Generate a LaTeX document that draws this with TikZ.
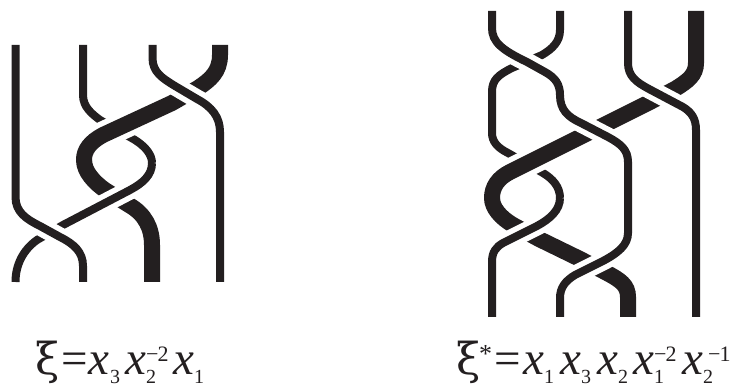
\documentclass[tikz,border=0pt]{standalone}
\usepackage{fontspec}
\setmainfont{Liberation Serif}
\newfontfamily\xifont{DejaVu Serif}
\definecolor{ink}{HTML}{231F20}
\newcommand{\bigf}{\fontsize{47}{50}\selectfont}
\newcommand{\subf}{\fontsize{20}{20}\selectfont}
\newcommand{\supf}{\fontsize{22}{22}\selectfont}
\newcommand{\putat}[2]{\rlap{\kern#1pt #2}}
\newcommand{\vx}{{\bigf\itshape x}}
\newcommand{\vxi}{{\xifont\fontsize{44}{44}\selectfont ξ}}
\newcommand{\vsub}[1]{\raisebox{-8.5pt}{\subf #1}}
\newcommand{\vsup}[1]{\raisebox{13.5pt}{\supf −\kern-1pt #1}}
\tikzset{
  x=1pt,y=-1pt,
  thin strand/.style={draw=ink,line width=8pt,line cap=butt},
  thick strand/.style={draw=ink,line width=16pt,line cap=butt},
  thin halo/.style={draw=white,line width=19pt,line cap=butt},
  thick halo/.style={draw=white,line width=27pt,line cap=butt},
  formula/.style={inner sep=0pt,anchor=base west,text=ink}
}
\begin{document}
\begin{tikzpicture}
\useasboundingbox (0,0) rectangle (731,387);
% ---- left braid ----
\def\LTlow{(84,160) .. controls (84,172) and (95,183) .. (105,190) -- (129,205) .. controls (145,214) and (152,228) .. (152,245) -- (152,282)}
\def\LNlow{(152,163) .. controls (152,175) and (143,183) .. (130,190) -- (63,225) -- (37,240) .. controls (23,250) and (15.5,265) .. (15.5,282)}
\def\LNup{(83,45) -- (83,95) .. controls (83,107) and (92,114) .. (100,120) -- (135,140) .. controls (146,147) and (152,155) .. (152,163)}
\def\LTup{(220,45) -- (220,55) .. controls (220,72) and (210,80) .. (198,88) -- (172,103) -- (103,135) .. controls (90,142) and (84,150) .. (84,160)}
\def\LR{(152.5,45) -- (152.5,58) .. controls (152.5,72) and (162,78) .. (175,86) -- (197,99) .. controls (212,107) and (220,117) .. (220,132) -- (220,282)}
\def\LA{(15.5,45) -- (15.5,197) .. controls (15.5,212) and (26,219) .. (40,226) -- (60,237) .. controls (74,244) and (83,252) .. (83,266) -- (83,282)}
\path[thick strand] \LTlow;
\path[thin halo] \LNlow; \path[thin strand] \LNlow;
\path[thin strand] \LNup;
\path[thick halo] \LTup; \path[thick strand] \LTup -- (84,162);
\path[thin halo] \LR; \path[thin strand] \LR;
\path[thin halo] \LA; \path[thin strand] \LA;
% ---- right braid ----
\def\RTlow{(492,198) .. controls (492,208) and (501,218) .. (513,225) -- (539,239) -- (580,259) -- (607,273) .. controls (620,280) and (628,285) .. (628,297) -- (628,317)}
\def\RNlow{(560,198) .. controls (560,210) and (550,219) .. (537,226) -- (503,243) .. controls (496,247) and (492,252) .. (492,262) -- (492,317)}
\def\RNup{(560,11) -- (560,30) .. controls (560,42) and (552,49) .. (542,55) -- (512,68) .. controls (498,75) and (492,80) .. (492,92) -- (492,133) .. controls (492,142) and (498,148) .. (508,153) -- (543,173) .. controls (553,179) and (560,187) .. (560,198)}
\def\RTup{(696,11) -- (696,63) .. controls (696,75) and (688,81) .. (675,89) -- (648,103) -- (608,123) -- (580,137) -- (510,172) .. controls (498,178) and (492,187) .. (492,198)}
\def\RS{(628,11) -- (628,63) .. controls (628,76) and (636,82) .. (649,89) -- (683,107) .. controls (691,112) and (696,118) .. (696,130) -- (696,317)}
\def\RO{(492,11) -- (492,28) .. controls (492,42) and (502,50) .. (527,62) -- (545,72) .. controls (556,78) and (560,85) .. (560,95) .. controls (560,110) and (568,117) .. (581,123) -- (608,137) .. controls (621,144) and (628,150) .. (628,162) -- (628,233) .. controls (628,245) and (618,253) .. (603,261) -- (575,275) .. controls (565,281) and (560,288) .. (560,298) -- (560,317)}
\path[thick strand] \RTlow;
\path[thin halo] \RNlow; \path[thin strand] \RNlow;
\path[thin strand] \RNup;
\path[thick halo] \RTup; \path[thick strand] \RTup -- (492,200);
\path[thin halo] \RS; \path[thin strand] \RS;
\path[thin halo] \RO; \path[thin strand] \RO;
% ---- formulas ----
\node[formula] (fl) at (35,374.5) {\putat{0}{\vxi}\putat{26}{\bigf=}\putat{53}{\vx}\putat{75}{\vsub{3}}\putat{90}{\vx}\putat{111}{\vsub{2}}\putat{111}{\vsup{2}}\putat{138}{\vx}\putat{159}{\vsub{1}}\kern170pt};
\node[formula] (fr) at (456,374.5) {\putat{0}{\vxi}\putat{23}{\raisebox{12pt}{\fontsize{26}{26}\selectfont *}}\putat{38}{\bigf=}\putat{67}{\vx}\putat{88}{\vsub{1}}\putat{104}{\vx}\putat{125}{\vsub{3}}\putat{141}{\vx}\putat{162}{\vsub{2}}\putat{177}{\vx}\putat{198}{\vsub{1}}\putat{198}{\vsup{2}}\putat{226}{\vx}\putat{247}{\vsub{2}}\putat{252}{\vsup{1}}\kern274pt};
\end{tikzpicture}
\end{document}
